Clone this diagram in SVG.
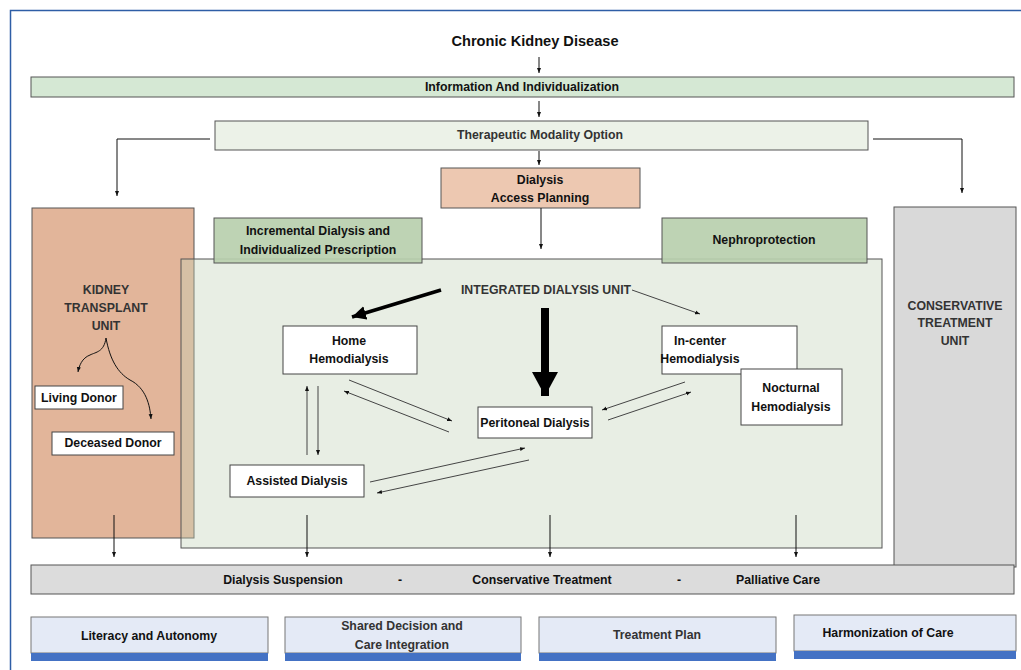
<svg xmlns="http://www.w3.org/2000/svg" width="1021" height="670" viewBox="0 0 1021 670">
<style>
text{font-family:"Liberation Sans",Arial,sans-serif;font-weight:bold;font-size:12.3px;fill:#111;text-anchor:middle}
.g{fill:#333}
.box{stroke:#555;stroke-width:1}
.w{fill:#fff;stroke:#444;stroke-width:1}
.c{stroke:#111;stroke-width:1;fill:none;marker-end:url(#a)}
.cg{stroke:#444;stroke-width:1;fill:none;marker-end:url(#a)}
</style>
<defs>
<marker id="a" markerWidth="6" markerHeight="6" refX="5" refY="3" orient="auto" markerUnits="userSpaceOnUse"><path d="M0,1 L5,3 L0,5 z" fill="#111"/></marker>
<marker id="big" markerWidth="26" markerHeight="30" refX="24" refY="13" orient="auto" markerUnits="userSpaceOnUse"><path d="M0,0 L24,13 L0,26 z" fill="#000"/></marker>
<marker id="med" markerWidth="16" markerHeight="14" refX="14" refY="7" orient="auto" markerUnits="userSpaceOnUse"><path d="M0,0 L14,7 L0,14 z" fill="#000"/></marker>
</defs>
<rect width="1021" height="670" fill="#fff"/>
<path d="M10.5,670 V10.5 H1021" fill="none" stroke="#2e5ea6" stroke-width="1.5"/>

<g id="ckd"><text x="535" y="46" style="font-size:14.6px">Chronic Kidney Disease</text></g>
<g id="info"><rect class="box" x="31" y="77" width="983" height="20" fill="#d5e8d4"/><text x="522" y="91">Information And Individualization</text></g>
<g id="therapeutic"><rect class="box" x="215" y="121" width="653" height="29" fill="#ecf2e8"/><text class="g" x="540" y="139">Therapeutic Modality Option</text></g>
<g id="access"><rect class="box" x="441" y="168" width="199" height="40" fill="#edc8b1"/><text x="540" y="184">Dialysis</text><text x="540" y="202">Access Planning</text></g>

<g id="kidney"><rect class="box" x="32" y="208" width="162" height="330" fill="#e2b59a"/>
<text class="g" x="106" y="294">KIDNEY</text><text class="g" x="106" y="312">TRANSPLANT</text><text class="g" x="106" y="330">UNIT</text></g>

<g id="conservative"><rect class="box" x="894" y="207" width="122" height="360" fill="#d9d9d9"/>
<text class="g" x="955" y="310">CONSERVATIVE</text><text class="g" x="955" y="327">TREATMENT</text><text class="g" x="955" y="345">UNIT</text></g>

<g id="integrated"><rect x="181" y="259" width="701" height="289" fill="#c3d3b8" fill-opacity="0.38" stroke="#555" stroke-width="1"/>
<text class="g" x="546" y="294">INTEGRATED DIALYSIS UNIT</text></g>

<g id="incremental"><rect class="box" x="214" y="218" width="208" height="45" fill="#b9cfae" fill-opacity="0.92"/><text x="318" y="235">Incremental Dialysis and</text><text x="318" y="254">Individualized Prescription</text></g>
<g id="nephro"><rect class="box" x="662" y="218" width="205" height="45" fill="#b9cfae" fill-opacity="0.92"/><text x="764" y="244">Nephroprotection</text></g>

<g id="living"><rect class="w" x="35" y="386" width="88" height="23"/><text x="79" y="402">Living Donor</text></g>
<g id="deceased"><rect class="w" x="52" y="432" width="122" height="23"/><text x="113" y="447">Deceased Donor</text></g>

<g id="home"><rect class="w" x="283" y="326" width="134" height="48"/><text x="349" y="345">Home</text><text x="349" y="363">Hemodialysis</text></g>
<g id="incenter"><rect class="w" x="662" y="326" width="135" height="48"/><text x="700" y="345">In-center</text><text x="700" y="363">Hemodialysis</text></g>
<g id="nocturnal"><rect class="w" x="741" y="369" width="101" height="56"/><text x="791" y="392">Nocturnal</text><text x="791" y="411">Hemodialysis</text></g>
<g id="peritoneal"><rect class="w" x="478" y="407" width="114" height="31"/><text x="535" y="427">Peritoneal Dialysis</text></g>
<g id="assisted"><rect class="w" x="230" y="465" width="134" height="32"/><text x="297" y="485">Assisted Dialysis</text></g>

<g id="bottom"><rect class="box" x="31" y="565" width="983" height="29" fill="#dcdcdc"/>
<text x="283" y="584">Dialysis Suspension</text><text x="400" y="584">-</text><text x="542" y="584">Conservative Treatment</text><text x="679" y="584">-</text><text x="778" y="584">Palliative Care</text></g>

<g id="literacy"><rect x="31" y="617" width="237" height="36" fill="#e4eaf6" stroke="#777"/><rect x="31" y="653" width="237" height="8" fill="#4472c4"/><text x="149" y="640">Literacy and Autonomy</text></g>
<g id="shared"><rect x="285" y="617" width="236" height="36" fill="#e4eaf6" stroke="#777"/><rect x="285" y="653" width="236" height="8" fill="#4472c4"/><text class="g" x="402" y="630">Shared Decision and</text><text class="g" x="402" y="649">Care Integration</text></g>
<g id="plan"><rect x="539" y="617" width="237" height="36" fill="#e4eaf6" stroke="#777"/><rect x="539" y="653" width="237" height="8" fill="#4472c4"/><text class="g" x="657" y="639">Treatment Plan</text></g>
<g id="harmonization"><rect x="794" y="615" width="222" height="36" fill="#e4eaf6" stroke="#777"/><rect x="794" y="651" width="222" height="8" fill="#4472c4"/><text x="888" y="637">Harmonization of Care</text></g>

<g id="connectors">
<path class="c" d="M539,57 V73"/>
<path class="c" d="M539,101 V117"/>
<path class="c" d="M539,151 V165"/>
<path class="c" d="M541,208 V249"/>
<path class="c" d="M210,139 H117 V196"/>
<path class="c" d="M873,139 H962 V193"/>
<path class="c" d="M106,338 C104,352 96,352 90,355 C82,358 79,366 78,372"/>
<path class="c" d="M106,338 C110,360 118,373 130,380 C146,388 150,405 151,419"/>
<path d="M441,290 L352,317" stroke="#000" stroke-width="3.5" fill="none" marker-end="url(#med)"/>
<path d="M545,308 V396" stroke="#000" stroke-width="8" fill="none" marker-end="url(#big)"/>
<path class="cg" d="M632,290 L700,314"/>
<path class="cg" d="M307,455 V386"/>
<path class="cg" d="M318,386 V455"/>
<path class="cg" d="M349,380 L452,421"/>
<path class="cg" d="M449,432 L344,391"/>
<path class="cg" d="M370,482 L525,448"/>
<path class="cg" d="M529,460 L377,493"/>
<path class="cg" d="M685,382 L602,410"/>
<path class="cg" d="M608,420 L691,392"/>
<path class="c" d="M114,515 V557"/>
<path class="c" d="M307,515 V557"/>
<path class="c" d="M550,515 V557"/>
<path class="c" d="M796,515 V557"/>
</g>
</svg>
